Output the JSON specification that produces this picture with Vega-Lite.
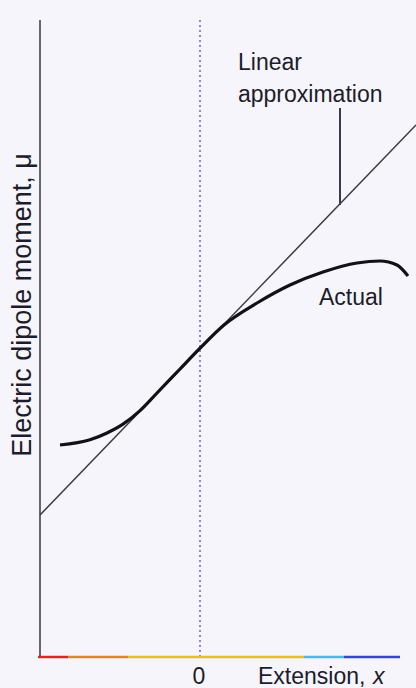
{
  "$schema": "https://vega.github.io/schema/vega-lite/v6.json",
  "width": 416,
  "height": 688,
  "padding": 0,
  "autosize": "none",
  "background": "#f6f5fb",
  "config": {"view": {"stroke": null}},
  "datasets": {
    "actual": [
      {"x": -3.5, "y": 5.3}, {"x": -2.75, "y": 5.43}, {"x": -2.325, "y": 5.6}, {"x": -1.925, "y": 5.82},
      {"x": -1.5, "y": 6.16}, {"x": -1.075, "y": 6.6}, {"x": -0.5, "y": 7.2}, {"x": 0, "y": 7.72}, {"x": 0.6, "y": 8.3},
      {"x": 1.425, "y": 8.85}, {"x": 2.25, "y": 9.3}, {"x": 3.075, "y": 9.625}, {"x": 3.925, "y": 9.85},
      {"x": 4.5, "y": 9.9}, {"x": 4.925, "y": 9.8}, {"x": 5.2, "y": 9.525}
    ],
    "linear": [{"x": -4, "y": 3.55}, {"x": 5.4, "y": 13.3}],
    "xaxis": [
      {"x": -4.05, "x2": -3.3, "c": "#d62a2a"},
      {"x": -3.3, "x2": -1.8, "c": "#d9892a"},
      {"x": -1.8, "x2": 2.6, "c": "#e0c030"},
      {"x": 2.6, "x2": 3.6, "c": "#55b5e0"},
      {"x": 3.6, "x2": 5.0, "c": "#3a46cc"}
    ],
    "labels": [
      {"x": 0.95, "y": 14.85, "t": "Linear"},
      {"x": 0.95, "y": 14.05, "t": "approximation"},
      {"x": 2.975, "y": 8.98, "t": "Actual"},
      {"x": 1.45, "y": -0.5, "t": "Extension,"}
    ]
  },
  "encoding": {
    "x": {"type": "quantitative", "scale": {"domain": [-5, 5.4], "nice": false, "zero": false}, "axis": null},
    "y": {"type": "quantitative", "scale": {"domain": [-0.775, 16.425], "nice": false, "zero": false}, "axis": null}
  },
  "layer": [
    {
      "data": {"values": [{"x": 0, "y": 0, "y2": 15.925}]},
      "mark": {"type": "rule", "stroke": "#8a86dd", "strokeWidth": 2, "strokeDash": [2, 3]},
      "encoding": {"x": {"field": "x"}, "y": {"field": "y"}, "y2": {"field": "y2"}}
    },
    {
      "data": {"values": [{"x": -4, "y": 0, "y2": 15.925}]},
      "mark": {"type": "rule", "stroke": "#666670", "strokeWidth": 2},
      "encoding": {"x": {"field": "x"}, "y": {"field": "y"}, "y2": {"field": "y2"}}
    },
    {
      "data": {"name": "xaxis"},
      "mark": {"type": "rule", "strokeWidth": 2.5},
      "encoding": {"x": {"field": "x"}, "x2": {"field": "x2"}, "y": {"datum": 0}, "color": {"field": "c", "type": "nominal", "scale": null}}
    },
    {
      "data": {"name": "linear"},
      "mark": {"type": "line", "stroke": "#3a3a48", "strokeWidth": 1.5},
      "encoding": {"x": {"field": "x"}, "y": {"field": "y"}}
    },
    {
      "data": {"values": [{"x": 3.5, "y": 11.3, "y2": 13.725}]},
      "mark": {"type": "rule", "stroke": "#3a3a48", "strokeWidth": 2},
      "encoding": {"x": {"field": "x"}, "y": {"field": "y"}, "y2": {"field": "y2"}}
    },
    {
      "data": {"name": "actual"},
      "mark": {"type": "line", "stroke": "#111118", "strokeWidth": 3.2, "interpolate": "monotone"},
      "encoding": {"x": {"field": "x"}, "y": {"field": "y"}}
    },
    {
      "data": {"name": "labels"},
      "mark": {"type": "text", "align": "left", "baseline": "middle", "font": "Liberation Sans", "fontSize": 23, "fill": "#1c1c2a"},
      "encoding": {"x": {"field": "x"}, "y": {"field": "y"}, "text": {"field": "t"}}
    },
    {
      "data": {"values": [{"x": -0.025, "y": -0.5, "t": "0"}]},
      "mark": {"type": "text", "align": "center", "baseline": "middle", "font": "Liberation Sans", "fontSize": 23, "fill": "#1c1c2a"},
      "encoding": {"x": {"field": "x"}, "y": {"field": "y"}, "text": {"field": "t"}}
    },
    {
      "data": {"values": [{"x": 4.325, "y": -0.5, "t": "x"}]},
      "mark": {"type": "text", "align": "left", "baseline": "middle", "font": "Liberation Sans", "fontStyle": "italic", "fontSize": 23, "fill": "#1c1c2a"},
      "encoding": {"x": {"field": "x"}, "y": {"field": "y"}, "text": {"field": "t"}}
    },
    {
      "data": {"values": [{"x": -4.425, "y": 8.8, "t": "Electric dipole moment, μ"}]},
      "mark": {"type": "text", "align": "center", "baseline": "middle", "angle": 270, "font": "Liberation Sans", "fontSize": 27, "fill": "#1c1c2a"},
      "encoding": {"x": {"field": "x"}, "y": {"field": "y"}, "text": {"field": "t"}}
    }
  ]
}
